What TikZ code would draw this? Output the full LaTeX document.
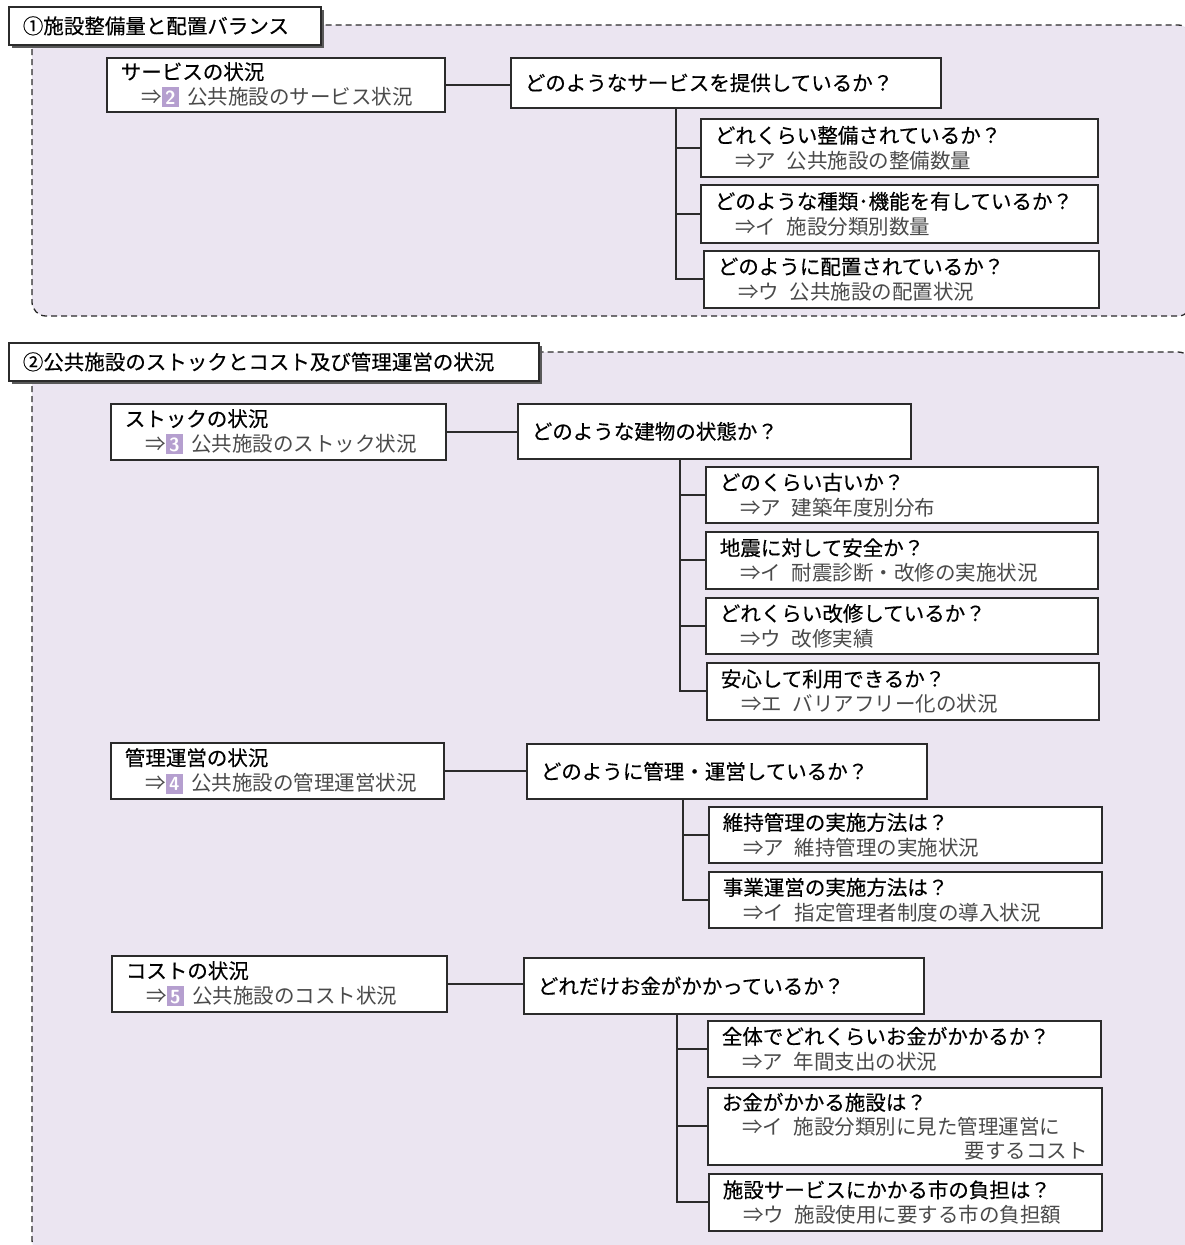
\documentclass[tikz,border=0pt]{standalone}
\usepackage{fontspec}
\setmainfont{Noto Sans CJK JP}
\newfontfamily\jphead[FakeBold=0.4]{Noto Sans CJK JP}
\usetikzlibrary{shadows}
\definecolor{panelfill}{HTML}{EBE5F1}
\definecolor{tagpurple}{HTML}{B59FCF}
\definecolor{subgray}{HTML}{4A4A4A}
\definecolor{edgegray}{HTML}{2B2B2B}
\newcommand\numtag[1]{{\setlength{\fboxsep}{0pt}\colorbox{tagpurple}{\rule[-3pt]{0pt}{20pt}\makebox[17pt]{\textcolor{white}{\fontsize{19}{19}\sffamily\bfseries #1}}}}}
\newcommand\subline[1]{\hspace*{1em}{\normalfont\color{subgray}#1}}

\begin{document}
\begin{tikzpicture}[x=1pt,y=-1pt,
  panel/.style={fill=panelfill,draw=edgegray,line width=1.3pt,dash pattern=on 6pt off 4pt,rounded corners=14pt},
  headbox/.style={draw=edgegray,line width=1.7pt,fill=white,anchor=north west,align=left,inner xsep=14pt,inner ysep=0pt,
    font=\jphead\fontsize{20.5}{25}\selectfont,drop shadow={shadow xshift=3.5pt,shadow yshift=-3.5pt,fill=black!65,opacity=1}},
  infobox/.style={draw=edgegray,line width=1.7pt,fill=white,anchor=north west,align=left,inner xsep=14pt,inner ysep=0pt,
    font=\jphead\fontsize{20.5}{25}\selectfont,drop shadow={shadow xshift=1.2pt,shadow yshift=-1.2pt,fill=black!40,opacity=1}},
  link/.style={draw=edgegray,line width=1.8pt}]
\useasboundingbox (0,0) rectangle (1184,1245);

\draw[panel] (32,25) rectangle (1192,316);
\node[headbox,text width=284pt,minimum height=38pt] (head1) at (8,6) {①施設整備量と配置バランス};

\node[infobox,text width=310pt,minimum height=54pt] (stat1) at (106,57) {サービスの状況\\\subline{⇒\numtag{2}\hspace{.4em}公共施設のサービス状況}};
\node[infobox,text width=402pt,minimum height=50pt] (ask1) at (510,57) {どのようなサービスを提供しているか？};
\node[infobox,text width=369pt,minimum height=58pt] (sub1a) at (700,118) {どれくらい整備されているか？\\\subline{⇒ア\enspace 公共施設の整備数量}};
\node[infobox,text width=369pt,minimum height=58pt] (sub1b) at (700,184) {どのような種類･機能を有しているか？\\\subline{⇒イ\enspace 施設分類別数量}};
\node[infobox,text width=367pt,minimum height=57pt] (sub1c) at (703,250) {どのように配置されているか？\\\subline{⇒ウ\enspace 公共施設の配置状況}};
\coordinate (trunk1) at ([xshift=166pt]ask1.south west);

\draw[link] (stat1.east) -- (stat1.east -| ask1.west);
\draw[link] (trunk1) |- (sub1c.west);
\draw[link] (trunk1 |- sub1a.west) -- (sub1a.west);
\draw[link] (trunk1 |- sub1b.west) -- (sub1b.west);

\draw[panel] (32,352) rectangle (1192,1254);
\node[headbox,text width=502pt,minimum height=38pt] (head2) at (8,342) {②公共施設のストックとコスト及び管理運営の状況};

\node[infobox,text width=307pt,minimum height=56pt] (stat2) at (110,403) {ストックの状況\\\subline{⇒\numtag{3}\hspace{.4em}公共施設のストック状況}};
\node[infobox,text width=365pt,minimum height=55pt] (ask2) at (517,403) {どのような建物の状態か？};
\node[infobox,text width=364pt,minimum height=56pt] (sub2a) at (705,466) {どのくらい古いか？\\\subline{⇒ア\enspace 建築年度別分布}};
\node[infobox,text width=364pt,minimum height=57pt] (sub2b) at (705,531) {地震に対して安全か？\\\subline{⇒イ\enspace 耐震診断・改修の実施状況}};
\node[infobox,text width=364pt,minimum height=56pt] (sub2c) at (705,597) {どれくらい改修しているか？\\\subline{⇒ウ\enspace 改修実績}};
\node[infobox,text width=364pt,minimum height=57pt] (sub2d) at (706,662) {安心して利用できるか？\\\subline{⇒エ\enspace バリアフリー化の状況}};
\coordinate (trunk2) at ([xshift=163pt]ask2.south west);

\draw[link] (stat2.east) -- (stat2.east -| ask2.west);
\draw[link] (trunk2) |- (sub2d.west);
\draw[link] (trunk2 |- sub2a.west) -- (sub2a.west);
\draw[link] (trunk2 |- sub2b.west) -- (sub2b.west);
\draw[link] (trunk2 |- sub2c.west) -- (sub2c.west);

\node[infobox,text width=305pt,minimum height=56pt] (stat3) at (110,742) {管理運営の状況\\\subline{⇒\numtag{4}\hspace{.4em}公共施設の管理運営状況}};
\node[infobox,text width=372pt,minimum height=55pt] (ask3) at (526,743) {どのように管理・運営しているか？};
\node[infobox,text width=365pt,minimum height=56pt] (sub3a) at (708,806) {維持管理の実施方法は？\\\subline{⇒ア\enspace 維持管理の実施状況}};
\node[infobox,text width=365pt,minimum height=56pt] (sub3b) at (708,871) {事業運営の実施方法は？\\\subline{⇒イ\enspace 指定管理者制度の導入状況}};
\coordinate (trunk3) at ([xshift=157pt]ask3.south west);

\draw[link] (stat3.east) -- (stat3.east -| ask3.west);
\draw[link] (trunk3) |- (sub3b.west);
\draw[link] (trunk3 |- sub3a.west) -- (sub3a.west);

\node[infobox,text width=307pt,minimum height=56pt] (stat4) at (111,955) {コストの状況\\\subline{⇒\numtag{5}\hspace{.4em}公共施設のコスト状況}};
\node[infobox,text width=372pt,minimum height=56pt] (ask4) at (523,957) {どれだけお金がかかっているか？};
\node[infobox,text width=365pt,minimum height=56pt] (sub4a) at (707,1020) {全体でどれくらいお金がかかるか？\\\subline{⇒ア\enspace 年間支出の状況}};
\node[infobox,text width=366pt,minimum height=77pt,font=\jphead\fontsize{20.5}{24}\selectfont] (sub4b) at (707,1087) {お金がかかる施設は？\\\subline{⇒イ\enspace 施設分類別に見た管理運営に}\\\makebox[\hsize][r]{\normalfont\color{subgray}要するコスト}};
\node[infobox,text width=365pt,minimum height=57pt] (sub4c) at (708,1173) {施設サービスにかかる市の負担は？\\\subline{⇒ウ\enspace 施設使用に要する市の負担額}};
\coordinate (trunk4) at ([xshift=154pt]ask4.south west);

\draw[link] (stat4.east) -- (stat4.east -| ask4.west);
\draw[link] (trunk4) |- (sub4c.west);
\draw[link] (trunk4 |- sub4a.west) -- (sub4a.west);
\draw[link] (trunk4 |- sub4b.west) -- (sub4b.west);

\end{tikzpicture}
\end{document}
